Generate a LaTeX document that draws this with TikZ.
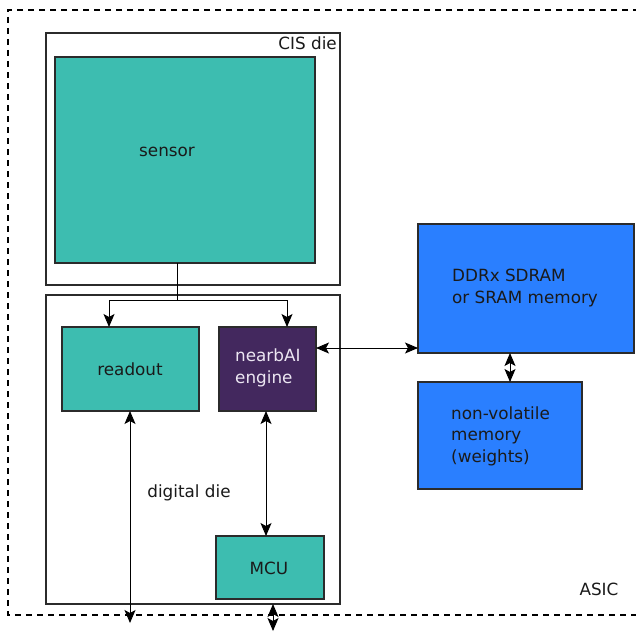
\documentclass[tikz,border=0pt]{standalone}
\usepackage{fontspec}
\setmainfont{DejaVu Sans}
\usetikzlibrary{arrows.meta}
\definecolor{tealc}{HTML}{3DBDB0}
\definecolor{purp}{HTML}{43285E}
\definecolor{blu}{HTML}{2A7FFF}
\definecolor{edge}{HTML}{2B2B2B}
\definecolor{txt}{HTML}{1A1A1A}
\definecolor{lighttxt}{HTML}{ECE6F2}
\tikzset{
  tipx/.tip={Stealth[length=13pt,width=11pt,inset=3pt]}
}
\begin{document}
\begin{tikzpicture}[
  box/.style={draw=edge,line width=1.5pt,inner sep=0pt,outer sep=0pt,anchor=north west},
  lbl/.style={font=\fontsize{16.8}{21.5}\selectfont,text=txt,inner sep=0pt},
  conn/.style={line width=0.9pt,draw=black},
  arr/.style={conn,-tipx},
  darr/.style={conn,tipx-tipx},
  asicframe/.style={draw=black,line width=2pt,dash pattern=on 6pt off 5pt}]
\begin{scope}[x=1pt,y=-1pt]
\useasboundingbox[fill=white] (0,0) rectangle (636,630);
% ASIC frame
\draw[asicframe] (650,10) -- (8,10) -- (8,615) -- (650,615);
% boxes
\node[box, minimum width=294pt, minimum height=252pt] (cis) at (46,33) {};
\node[box, fill=tealc, minimum width=260pt, minimum height=206pt] (sensor) at (55,57) {};
\node[box, minimum width=294pt, minimum height=309pt] (dig) at (46,295) {};
\node[box, fill=tealc, minimum width=137pt, minimum height=84pt] (readout) at (62,327) {};
\node[box, fill=purp, minimum width=97pt, minimum height=84pt] (nai) at (219,327) {};
\node[box, fill=tealc, minimum width=108pt, minimum height=63pt] (mcu) at (216,536) {};
\node[box, fill=blu, minimum width=216pt, minimum height=129pt] (ddr) at (418,224) {};
\node[box, fill=blu, minimum width=164pt, minimum height=107pt] (nvm) at (418,382) {};
% labels
\node[lbl, anchor=east] (cislbl) at (337,43) {CIS die};
\node[lbl] (senslbl) at (167,152) {sensor};
\node[lbl] (rolbl) at (130,369) {readout};
\node[lbl, text=lighttxt, align=left, anchor=west] (nailbl) at (235,368) {nearbAI\\engine};
\node[lbl] (diglbl) at (189,493) {digital die};
\node[lbl] (mculbl) at (269,568) {MCU};
\node[lbl, align=left, anchor=west] (ddrlbl) at (452,288) {DDRx SDRAM\\or SRAM memory};
\node[lbl, align=left, anchor=west] (nvmlbl) at (451,436) {non-volatile\\memory\\(weights)};
\node[lbl] (asiclbl) at (599,589) {ASIC};
% helper coordinates
\coordinate (br) at (177,300);
\coordinate (bl) at (109,300);
\coordinate (bR) at (287,300);
\coordinate (y348) at (0,348);
\coordinate (x510) at (510,0);
\coordinate (x266) at (266,0);
\coordinate (roout) at (130,623);
\coordinate (mcuout) at (273,631);
\end{scope}
% connectors
\draw[conn] (sensor.south -| br) -- (br);
\draw[arr] (br) -- (bl) -- (readout.north -| bl);
\draw[arr] (br) -- (bR) -- (nai.north -| bR);
\draw[darr] (nai.east |- y348) -- (ddr.west |- y348);
\draw[darr] (ddr.south -| x510) -- (nvm.north -| x510);
\draw[darr] (readout.south -| roout) -- (roout);
\draw[darr] (nai.south -| x266) -- (mcu.north -| x266);
\draw[darr] (dig.south -| mcuout) -- (mcuout);
\end{tikzpicture}
\end{document}
